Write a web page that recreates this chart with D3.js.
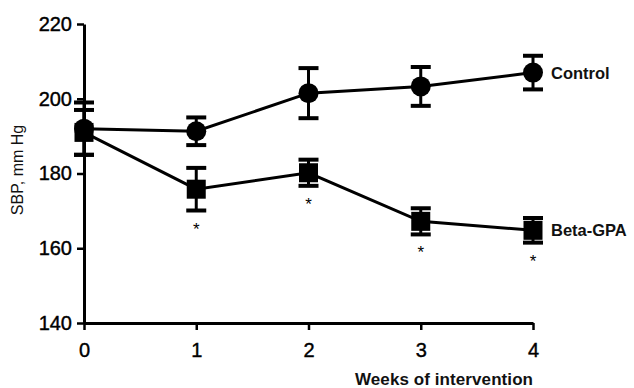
<!DOCTYPE html>
<html>
<head>
<meta charset="utf-8">
<script src="https://cdn.jsdelivr.net/npm/d3@7"></script>
<style>
  body { margin: 0; background: #fff; }
  svg { display: block; font-family: "Liberation Sans", Arial, sans-serif; }
</style>
</head>
<body>
<div id="chart"></div>
<script>
// data
var weeks = [0, 1, 2, 3, 4];
var control = [192, 191.3, 201.5, 203.3, 207];
var controlErr = [7, 3.7, 6.7, 5.2, 4.5];
var beta = [191, 175.8, 180.2, 167.2, 164.8];
var betaErr = [6, 5.7, 3.5, 3.5, 3.3];
var betaStars = [false, true, true, true, true];
var yTicks = [140, 160, 180, 200, 220];

var svgWidth = 634;
var svgHeight = 388;

var margin = { top: 24, right: 101, bottom: 65, left: 84 };
var width = svgWidth - margin.left - margin.right;
var height = svgHeight - margin.top - margin.bottom;

var svg = d3.select("#chart")
    .append("svg")
    .attr("width", svgWidth)
    .attr("height", svgHeight);

svg.append("rect")
    .attr("width", svgWidth)
    .attr("height", svgHeight)
    .attr("fill", "#fff");

var chartGroup = svg.append("g")
    .attr("transform", `translate(${margin.left}, ${margin.top})`);

var x = d3.scaleLinear().domain([0, 4]).range([0, width]);
var y = d3.scaleLinear().domain([140, 220]).range([height, 0]);

// axes
var bottomAxis = d3.axisBottom(x).tickValues(weeks).tickFormat(d3.format("d"))
    .tickSize(7).tickSizeOuter(0).tickPadding(13);
var leftAxis = d3.axisLeft(y).tickValues(yTicks)
    .tickSize(7).tickSizeOuter(0).tickPadding(5);

var xg = chartGroup.append("g")
    .attr("transform", `translate(0, ${height})`)
    .call(bottomAxis);
var yg = chartGroup.append("g").call(leftAxis);

[xg, yg].forEach(g => {
    g.select(".domain").attr("stroke", "#000").attr("stroke-width", 3);
    g.selectAll(".tick line").attr("stroke", "#000").attr("stroke-width", 2.5);
    g.selectAll(".tick text")
        .attr("fill", "#000")
        .attr("stroke", "#000")
        .attr("stroke-width", 0.4)
        .style("font-size", "20px")
        .style("font-family", "'Liberation Sans', Arial, sans-serif");
});

// axis titles
svg.append("text")
    .attr("transform", "translate(23, 170) rotate(-90)")
    .attr("text-anchor", "middle")
    .style("font-size", "16px")
    .attr("fill", "#111")
    .text("SBP, mm Hg");

svg.append("text")
    .attr("x", 444)
    .attr("y", 385)
    .attr("text-anchor", "middle")
    .attr("textLength", 178)
    .style("font-size", "17px")
    .style("font-weight", "bold")
    .attr("fill", "#111")
    .text("Weeks of intervention");

var series = [
    { name: "Control", values: control, err: controlErr },
    { name: "Beta-GPA", values: beta, err: betaErr }
];

var line = d3.line()
    .x((d, i) => x(weeks[i]))
    .y(d => y(d));

series.forEach(s => {
    chartGroup.append("path")
        .datum(s.values)
        .attr("fill", "none")
        .attr("stroke", "#000")
        .attr("stroke-width", 3)
        .attr("d", line);
});

// error bars
series.forEach(s => {
    var g = chartGroup.append("g");
    s.values.forEach((v, i) => {
        var cx = x(weeks[i]);
        var top = y(v + s.err[i]);
        var bot = y(v - s.err[i]);
        g.append("line")
            .attr("x1", cx).attr("x2", cx)
            .attr("y1", top).attr("y2", bot)
            .attr("stroke", "#000").attr("stroke-width", 3);
        [top, bot].forEach(yy => {
            g.append("line")
                .attr("x1", cx - 10).attr("x2", cx + 10)
                .attr("y1", yy).attr("y2", yy)
                .attr("stroke", "#000").attr("stroke-width", 4);
        });
    });
});

// markers
chartGroup.selectAll("circle.ctl")
    .data(control)
    .enter()
    .append("circle")
    .attr("class", "ctl")
    .attr("cx", (d, i) => x(weeks[i]))
    .attr("cy", d => y(d))
    .attr("r", 10)
    .attr("fill", "#000");

chartGroup.selectAll("rect.beta")
    .data(beta)
    .enter()
    .append("rect")
    .attr("class", "beta")
    .attr("x", (d, i) => x(weeks[i]) - 9.5)
    .attr("y", d => y(d) - 9.5)
    .attr("width", 19)
    .attr("height", 19)
    .attr("fill", "#000");

// significance stars
chartGroup.selectAll("text.star")
    .data(beta)
    .enter()
    .filter((d, i) => betaStars[i])
    .append("text")
    .attr("class", "star")
    .attr("x", (d, i) => x(weeks[i + 1]))
    .attr("y", (d, i) => y(d - betaErr[i + 1]) + 24)
    .attr("text-anchor", "middle")
    .style("font-size", "17px")
    .attr("fill", "#000")
    .text("*");

// series labels
series.forEach(s => {
    chartGroup.append("text")
        .attr("x", x(4) + 18)
        .attr("y", y(s.values[4]))
        .attr("dy", "0.36em")
        .style("font-size", "16.5px")
        .style("font-weight", "bold")
        .attr("fill", "#111")
        .text(s.name);
});
</script>
</body>
</html>
